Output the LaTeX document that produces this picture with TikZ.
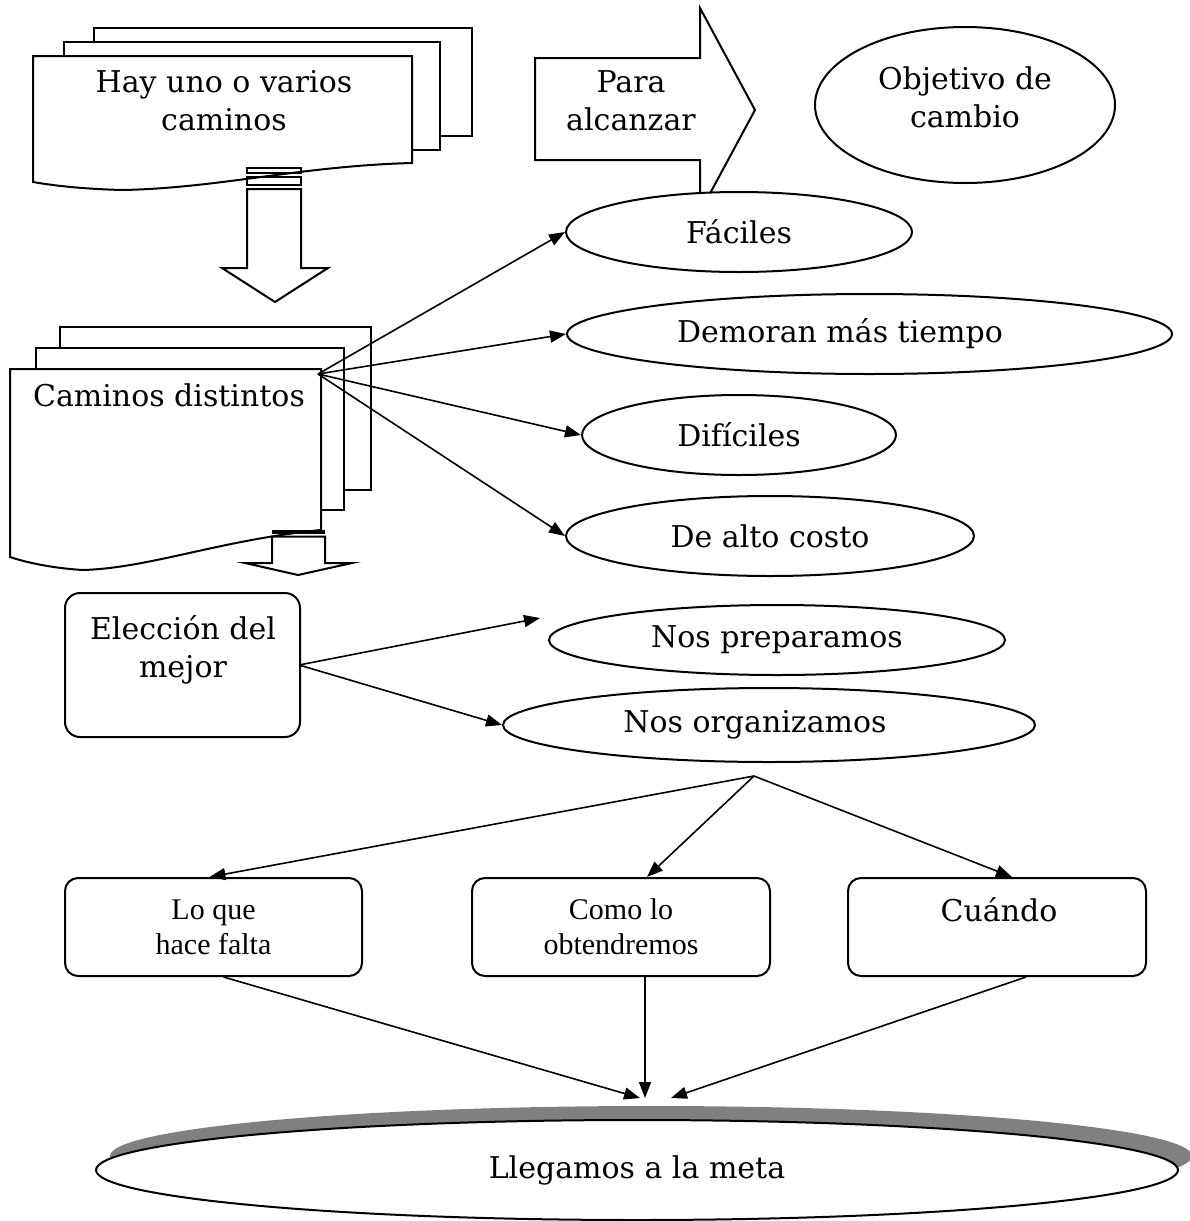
\documentclass[tikz,border=0pt]{standalone}
\usepackage{fontspec}
\setmainfont{DejaVu Serif}
\newfontfamily\timesf{Liberation Serif}
\usetikzlibrary{arrows.meta,shapes.geometric}
\begin{document}
\begin{tikzpicture}[x=1pt,y=-1pt,
  every node/.style={font=\fontsize{30}{38}\selectfont},
  shp/.style={draw, line width=2pt, fill=white, line join=miter},
  oval/.style={ellipse, draw, fill=white, line width=2pt, inner sep=0pt},
  rbox/.style={rectangle, rounded corners=13pt, draw, fill=white, line width=2pt, inner sep=0pt},
  conn/.style={line width=1.6pt, -{Triangle[length=16pt,width=12pt]}},
  tl/.style={align=center, inner sep=0pt},
  tms/.style={font=\timesf\fontsize{30}{35}\selectfont},
]
\useasboundingbox (0,0) rectangle (1189,1221);
\fill[white] (0,0) rectangle (1189,1221);

% ---- multidocument 1 ----
\draw[shp] (94,28) rectangle (472,136);
\draw[shp] (64,42) rectangle (440,150);
\draw[shp] (33,56) -- (412,56) -- (412,163) .. controls (300,166) and (220,188) .. (123,190)
  .. controls (80,189) and (50,185) .. (33,182) -- cycle;
\node[tl] (doc1) at (224,101) {Hay uno o varios\\caminos};

% striped down arrow 1
\draw[line width=1.8pt] (247,168) rectangle (301,173);
\draw[line width=1.8pt] (247,177) rectangle (301,185);
\draw[shp] (247,189) -- (301,189) -- (301,268) -- (328,268) -- (275,302) -- (222,268) -- (247,268) -- cycle;

% ---- block arrow "Para alcanzar" ----
\draw[shp] (535,58) -- (700,58) -- (700,8) -- (755,110) -- (700,212) -- (700,160) -- (535,160) -- cycle;
\node[tl] (para) at (631,101) {Para\\alcanzar};

% ---- Objetivo de cambio ----
\node[oval, minimum width=300pt, minimum height=156pt, align=center] (obj) at (965,105) {Objetivo de\\cambio\\[-22pt]\mbox{}};

% ---- multidocument 2 ----
\draw[shp] (60,327) rectangle (371,490);
\draw[shp] (36,348) rectangle (344,510);
\draw[shp] (10,369) -- (321,369) -- (321,530) .. controls (220,540) and (150,568) .. (83,570)
  .. controls (50,568) and (25,562) .. (10,557) -- cycle;
\node[inner sep=0pt, anchor=base] (doc2) at (169,406) {Caminos distintos};
\coordinate (cd) at (318,374);

% striped down arrow 2
\fill (272,530) rectangle (325,534);
\draw[shp] (272,536.5) -- (325,536.5) -- (325,563) -- (352,563) -- (298,575) -- (245,563) -- (272,563) -- cycle;

% ---- ellipses right ----
\node[oval, minimum width=346pt, minimum height=80pt] (fac) at (739,232) {Fáciles};
\node[oval, minimum width=605pt, minimum height=80pt] (dem) at (869.5,334) {\hspace*{-59pt}Demoran más tiempo};
\node[oval, minimum width=314pt, minimum height=80pt] (dif) at (739,435) {Difíciles};
\node[oval, minimum width=408pt, minimum height=80pt] (dac) at (770,536) {De alto costo};
\node[oval, minimum width=456pt, minimum height=70pt] (pre) at (777,640) {Nos preparamos};
\node[oval, minimum width=532pt, minimum height=74pt] (org) at (769,725) {\hspace*{-28pt}Nos organizamos};

\draw[conn] (cd) -- (fac.west);
\draw[conn] (cd) -- (dem.west);
\draw[conn] (cd) -- (dif.west);
\draw[conn] (cd) -- (dac.west);

% ---- Eleccion del mejor ----
\node[rbox, rounded corners=15pt, minimum width=235pt, minimum height=144pt] (elec) at (182.5,665) {};
\node[tl] (electxt) at (183,650) {Elección del\\mejor};
\coordinate (eo) at (299,665);
\coordinate (pt) at (540,618);
\draw[conn] (eo) -- (pt);
\draw[conn] (eo) -- (org.west);

% ---- bottom row boxes ----
\node[rbox, minimum width=297pt, minimum height=98pt, tms, align=center] (lq) at (213.5,927) {Lo que\\hace falta};
\node[rbox, minimum width=298pt, minimum height=98pt, tms, align=center] (cl) at (621,927) {Como lo\\obtendremos};
\node[rbox, minimum width=298pt, minimum height=98pt] (cu) at (997,927) {};
\node[inner sep=0pt, anchor=base] (cutxt) at (999,921) {Cuándo};

\coordinate (apex) at (754,776);
\draw[conn] (apex) -- ([xshift=-4pt]lq.north);
\draw[conn] (apex) -- ([xshift=26pt]cl.north);
\draw[conn] (apex) -- ([xshift=15pt]cu.north);

% ---- meta ----
\fill[gray] (651,1156) ellipse [x radius=541, y radius=50];
\node[oval, minimum width=1082pt, minimum height=100pt] (meta) at (637,1170) {Llegamos a la meta};

\coordinate (t1) at (640,1098);
\coordinate (t2) at (645,1098);
\coordinate (t3) at (671,1098);
\draw[conn] ([xshift=10pt]lq.south) -- (t1);
\draw[conn] ([xshift=24pt]cl.south) -- (t2);
\draw[conn] ([xshift=29pt]cu.south) -- (t3);
\end{tikzpicture}
\end{document}
